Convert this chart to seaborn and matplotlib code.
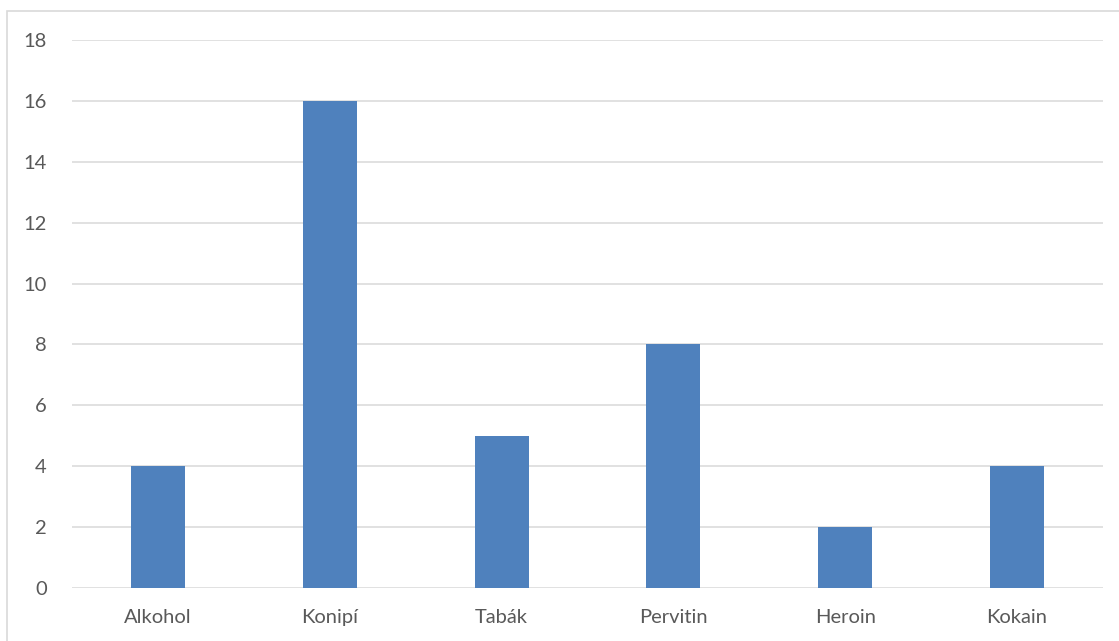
import matplotlib
matplotlib.use("Agg")
import matplotlib.pyplot as plt
import seaborn as sns
import pandas as pd
from matplotlib.patches import Rectangle

categories = ["Alkohol", "Konipí", "Tabák", "Pervitin", "Heroin", "Kokain"]
values = [4, 16, 5, 8, 2, 4]
yticks = [0, 2, 4, 6, 8, 10, 12, 14, 16, 18]

sns.set_theme(style="white")
plt.rcParams['font.family'] = ['Lato', 'DejaVu Sans']

df = pd.DataFrame({"cat": categories, "val": values})

fig = plt.figure(figsize=(11.19, 6.41), dpi=100)
ax = fig.add_axes([72/1119, 1-588/641, (1103-72)/1119, (588-40)/641])

ax.set_axisbelow(True)
for t in yticks:
    ax.axhline(t, color="#D9D9D9", lw=1.1, zorder=0)

sns.barplot(data=df, x="cat", y="val", color="#4F81BD", saturation=1,
            width=0.315, linewidth=0, ax=ax, zorder=2)

ax.set_ylim(0, 18)
ax.set_xlim(-0.5, len(categories) - 0.5)
ax.set_yticks(yticks)
ax.set_yticklabels([str(t) for t in yticks])
ax.set_xlabel("")
ax.set_ylabel("")
for s in ax.spines.values():
    s.set_visible(False)
ax.tick_params(axis="both", length=0, labelsize=14.5, colors="#595959")
ax.tick_params(axis="y", pad=18)
ax.tick_params(axis="x", pad=15)

# chart border (left and top visible)
fig.patches.append(Rectangle((7/1119, -0.01), 1.02, 1-11/641+0.01,
                             transform=fig.transFigure, fill=False,
                             edgecolor="#D9D9D9", lw=1.2))

fig.savefig("out.png", dpi=100)
